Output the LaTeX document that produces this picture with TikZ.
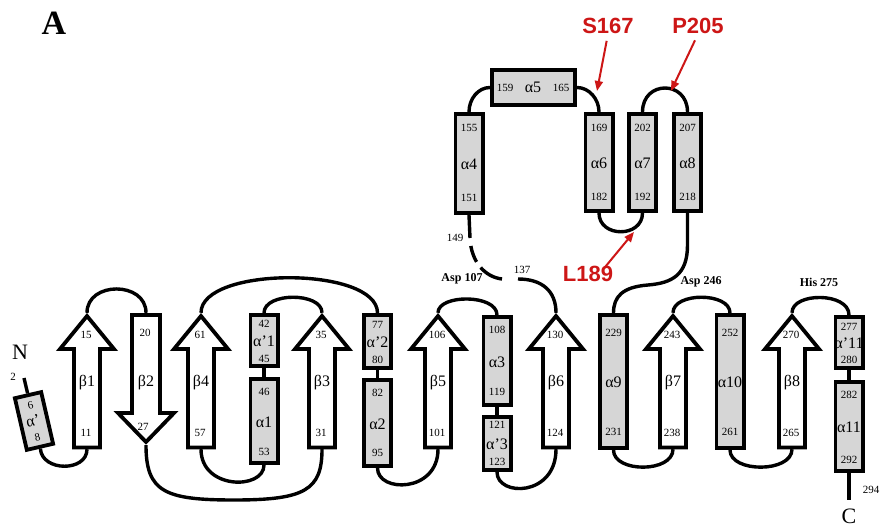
\documentclass[tikz,border=0pt]{standalone}
\usepackage{fontspec}
\setmainfont{Liberation Serif}
\newfontfamily\redsans{Liberation Sans}
\usetikzlibrary{arrows.meta}
\definecolor{helixgray}{RGB}{214,214,214}
\definecolor{annored}{RGB}{205,22,22}
\tikzset{
  helix/.style={draw, line width=3.8pt, fill=helixgray, minimum width=27.2pt, inner sep=0pt},
  strandnode/.style={inner sep=0pt, minimum width=26pt},
  strandline/.style={draw, fill=white, line width=3.8pt, line join=miter, miter limit=10},
  loopline/.style={line width=3.4pt},
  num/.style={font=\fontsize{11}{11}\selectfont, inner sep=0pt},
  greek/.style={font=\fontsize{16}{16}\selectfont, inner sep=0pt},
  site/.style={font=\bfseries\fontsize{12}{12}\selectfont, inner sep=0pt},
  term/.style={font=\fontsize{22}{22}\selectfont, inner sep=0pt},
  panel/.style={font=\bfseries\fontsize{34}{34}\selectfont, inner sep=0pt},
  redlabel/.style={font=\redsans\bfseries\fontsize{22}{22}\selectfont, text=annored, inner sep=0pt},
  redarrow/.style={draw=annored, line width=2pt, -{Triangle[length=10pt,width=8pt]}}
}
% up strand: name, x, top label, greek, bottom label
\newcommand\upstrand[5]{%
  \node[strandnode, minimum height=136pt] (#1) at (#2,381) {};
  \draw[strandline] (#2-13,447.5) -- (#2-13,349) -- (#2-27,349) -- (#2,316) -- (#2+27,349) -- (#2+13,349) -- (#2+13,447.5) -- cycle;
  \node[num] (#1t) at (#2-1,335) {#3};
  \node[greek] (#1m) at (#2,383) {#4};
  \node[num] (#1b) at (#2-1,433) {#5};
}
% helix: name, x, ytop, ybot, ytoplabel, ybotlabel, top, greek, bottom
\newcommand\helixbox[9]{%
  \pgfmathsetmacro\hlxc{(#3+#4)/2}%
  \pgfmathsetmacro\hlxh{#4-#3-3.8}%
  \node[helix, minimum height=\hlxh pt] (#1) at (#2,\hlxc) {};
  \node[num] (#1t) at (#2,#5) {#7};
  \node[greek] (#1m) at (#2,\hlxc+1) {#8};
  \node[num] (#1b) at (#2,#6) {#9};
}
\begin{document}
\begin{tikzpicture}[x=1pt,y=-1pt]
\useasboundingbox (0,0) rectangle (881,527);
\fill[white] (0,0) rectangle (881,527);

% ---------- secondary structure elements ----------
\node[helix, minimum width=27pt, minimum height=53pt, rotate=13] (ap) at (34,421) {};
\node[num, rotate=13] (apt) at (30.5,405) {6};
\node[greek, rotate=13] (apm) at (33,421) {α'};
\node[num, rotate=13] (apb) at (37.5,437) {8};

\upstrand{b1}{87}{15}{β1}{11}

\node[strandnode, minimum height=132pt] (b2) at (146,379) {};
\draw[strandline] (132,315) -- (132,413) -- (118,413) -- (146,442) -- (174,413) -- (160,413) -- (160,315) -- cycle;
\node[num] (b2t) at (145,333) {20};
\node[greek] (b2m) at (146,383) {β2};
\node[num] (b2b) at (143,427) {27};

\upstrand{b4}{201}{61}{β4}{57}
\helixbox{a1p}{264}{313}{368}{324}{359}{42}{α'1}{45}
\helixbox{a1}{264}{377}{465}{392}{452}{46}{α1}{53}
\upstrand{b3}{322}{35}{β3}{31}
\helixbox{a2p}{377.5}{313}{370}{325}{360}{77}{α'2}{80}
\helixbox{a2}{377.5}{378}{468}{393}{453}{82}{α2}{95}
\upstrand{b5}{438}{106}{β5}{101}
\helixbox{a3}{497}{315}{407}{330}{392}{108}{α3}{119}
\helixbox{a3p}{497}{415}{472}{425}{462}{121}{α'3}{123}
\upstrand{b6}{556}{130}{β6}{124}

\helixbox{a4}{469}{112}{215}{128}{198}{155}{α4}{151}
\node[helix, minimum width=83.2pt, minimum height=35.2pt] (a5) at (533.5,87.5) {};
\node[num] (a5t) at (505,88) {159};
\node[greek] (a5m) at (533,87) {α5};
\node[num] (a5b) at (561,88) {165};
\helixbox{a6}{599}{112}{213}{128}{197}{169}{α6}{182}
\helixbox{a7}{642.5}{112}{213}{128}{197}{202}{α7}{192}
\helixbox{a8}{687.5}{112}{213}{128}{197}{207}{α8}{218}

\helixbox{a9}{613.5}{313}{450}{333}{432}{229}{α9}{231}
\upstrand{b7}{673}{243}{β7}{238}
\helixbox{a10}{730}{313}{450}{333}{432}{252}{α10}{261}
\upstrand{b8}{792}{270}{β8}{265}
\helixbox{a11p}{849}{315}{370}{327}{360}{277}{α'11}{280}
\helixbox{a11}{849}{380}{473}{395}{460}{282}{α11}{292}

% ---------- free ends ----------
\coordinate (nterm) at (24,378);
\coordinate (cterm) at (849,500);
\coordinate (c149) at (470,238);
\coordinate (c137a) at (502,279);
\coordinate (c137) at (518,279);

% ---------- loops ----------
\draw[loopline] (ap.north) -- (nterm);
\draw[loopline] (ap.south) .. controls (42,472) and (87,472) .. (b1.south);
\draw[loopline] (b1.north) .. controls (87,281) and (146,281) .. (b2.north);
\draw[loopline] (b2.south) .. controls (146,492) and (165,500) .. (234,500)
                 .. controls (305,500) and (322,490) .. (b3.south);
\draw[loopline] (b3.north) .. controls (322,292) and (264,292) .. (a1p.north);
\draw[loopline] (a1p.south) -- (a1.north);
\draw[loopline] (a1.south) .. controls (264,490) and (201,490) .. (b4.south);
\draw[loopline] (b4.north) .. controls (201,266) and (377.5,266) .. (a2p.north);
\draw[loopline] (a2p.south) -- (a2.north);
\draw[loopline] (a2.south) .. controls (377.5,493) and (438,493) .. (b5.south);
\draw[loopline] (b5.north) .. controls (438,294) and (497,294) .. (a3.north);
\draw[loopline] (a3.south) -- (a3p.north);
\draw[loopline] (a3p.south) .. controls (497,497) and (556,497) .. (b6.south);
\draw[loopline] (b6.north) .. controls (556,291) and (542,279) .. (c137);
\draw[loopline, dash pattern=on 0pt off 8pt on 17pt off 7pt on 40pt] (c149) .. controls (471,262) and (485,277) .. (c137a);
\draw[loopline] (a4.south) -- (c149);
\draw[loopline] (a4.north) .. controls (469,99) and (478,87.5) .. (a5.west);
\draw[loopline] (a5.east) .. controls (589,87.5) and (599,99) .. (a6.north);
\draw[loopline] (a6.south) .. controls (599,238) and (642.5,238) .. (a7.south);
\draw[loopline] (a7.north) .. controls (642.5,80) and (687.5,80) .. (a8.north);
\draw[loopline] (a8.south) -- (687.5,245) .. controls (687.5,275) and (672,283) .. (648,285)
                 .. controls (622,287) and (613.5,297) .. (a9.north);
\draw[loopline] (a9.south) .. controls (613.5,473) and (673,473) .. (b7.south);
\draw[loopline] (b7.north) .. controls (673,292) and (730,292) .. (a10.north);
\draw[loopline] (a10.south) .. controls (730,473) and (792,473) .. (b8.south);
\draw[loopline] (b8.north) .. controls (792,292) and (849,292) .. (a11p.north);
\draw[loopline] (a11p.south) -- (a11.north);
\draw[loopline] (a11.south) -- (cterm);

% ---------- labels ----------
\node[panel] (lblA) at (54,23) {A};
\node[term] (lblN) at (20,352) {N};
\node[num] (lbl2) at (13,377) {2};
\node[term] (lblC) at (849,516) {C};
\node[num] (lbl294) at (871,490) {294};
\node[num] (lbl137) at (522,270) {137};
\node[num] (lbl149) at (455,238) {149};
\node[site] (asp107) at (462,279) {Asp 107};
\node[site] (asp246) at (701,282) {Asp 246};
\node[site] (his275) at (819,282) {His 275};

% ---------- red annotations ----------
\node[redlabel] (s167) at (608,26) {S167};
\node[redlabel] (p205) at (698,26) {P205};
\node[redlabel] (l189) at (588,274) {L189};
\coordinate (tS) at (597,91);
\coordinate (tP) at (671,91);
\coordinate (tL) at (634,232);
\draw[redarrow, shorten <=7pt] (s167.south) -- (tS);
\draw[redarrow, shorten <=7pt] (p205.south) -- (tP);
\draw[redarrow] ([xshift=-9pt,yshift=-2pt]l189.north east) -- (tL);
\end{tikzpicture}
\end{document}
